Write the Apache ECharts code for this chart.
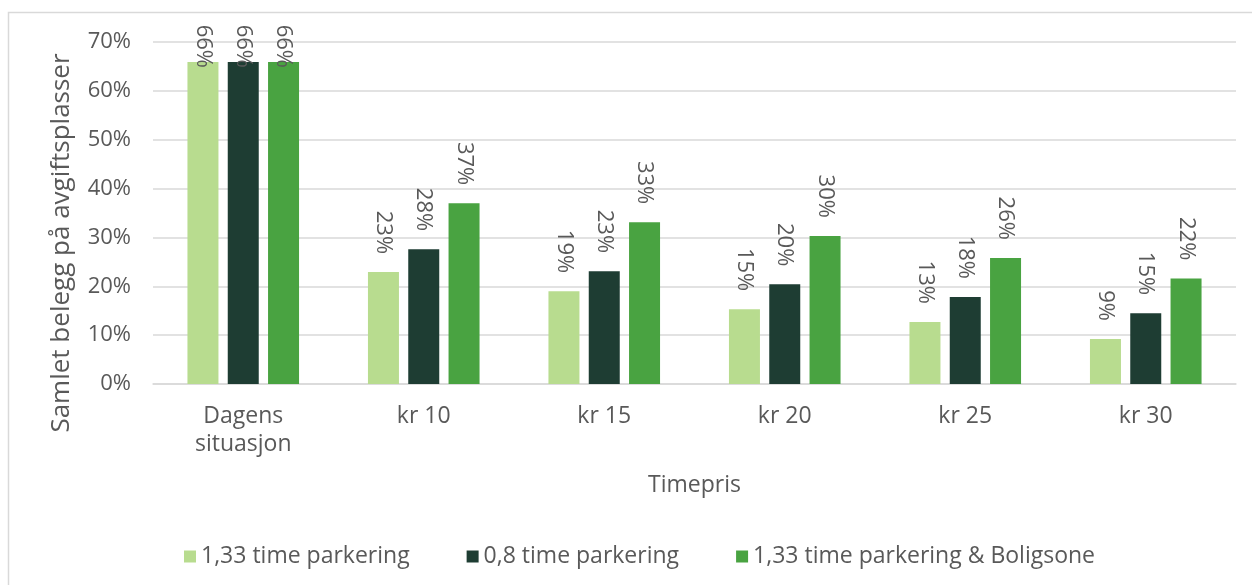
<!DOCTYPE html>
<html>
<head>
<meta charset="utf-8">
<script src="https://cdn.jsdelivr.net/npm/echarts@6/dist/echarts.min.js"></script>
<style>
  html, body { margin: 0; padding: 0; background: #ffffff; }
  #chart { width: 1252px; height: 585px; }
</style>
</head>
<body>
<div id="chart"></div>
<script>
// Hourly price scenarios
const categories = ['Dagens\nsituasjon', 'kr 10', 'kr 15', 'kr 20', 'kr 25', 'kr 30'];

// Total occupancy on paid parking spaces (%)
const seriesNames = ['1,33 time parkering', '0,8 time parkering', '1,33 time parkering & Boligsone'];
const parking133 = [65.9, 22.9, 19.0, 15.3, 12.7, 9.2];
const parking08 = [65.9, 27.6, 23.1, 20.4, 17.8, 14.5];
const parking133Bolig = [65.9, 37.0, 33.1, 30.3, 25.8, 21.6];

const yTicks = { min: 0, max: 70, interval: 10 };
const colors = ['#b8dc8f', '#1e3d33', '#49a341'];

const FONT = '"Open Sans"';
const TEXT = '#595959';
const FS = 23;

function makeData(values) {
  // labels that would run past the top of the plot are pulled down onto the bar
  return values.map(v => v > 60
    ? { value: v, label: { distance: -6 } }
    : v);
}

function makeSeries(name, values, color) {
  return {
    name: name,
    type: 'bar',
    data: makeData(values),
    barWidth: 31,
    barGap: '30%',
    itemStyle: { color: color },
    label: {
      show: true,
      position: 'top',
      rotate: -90,
      align: 'right',
      verticalAlign: 'middle',
      distance: 18,
      fontFamily: FONT,
      fontSize: 22,
      color: TEXT,
      formatter: p => Math.round(p.value) + '%'
    }
  };
}

const chart = echarts.init(document.getElementById('chart'));
chart.setOption({
  animation: false,
  textStyle: { fontFamily: FONT },
  graphic: [{
    type: 'rect',
    z: -10,
    shape: { x: 8.5, y: 12.5, width: 1300, height: 620 },
    style: { fill: '#ffffff', stroke: '#d9d9d9', lineWidth: 1.5 }
  }],
  grid: { left: 153, right: 16, top: 42, bottom: 201 },
  legend: {
    left: 179,
    top: 540,
    itemWidth: 12,
    itemHeight: 12,
    itemGap: 57,
    icon: 'rect',
    textStyle: { fontFamily: FONT, fontSize: FS, color: TEXT },
    data: seriesNames
  },
  xAxis: {
    type: 'category',
    data: categories,
    name: 'Timepris',
    nameLocation: 'middle',
    nameGap: 90,
    nameTextStyle: { fontFamily: FONT, fontSize: FS, color: TEXT },
    axisLine: { lineStyle: { color: '#d9d9d9', width: 1.5 } },
    axisTick: { show: false },
    axisLabel: { fontFamily: FONT, fontSize: FS, color: TEXT, margin: 18, lineHeight: 28 }
  },
  yAxis: {
    type: 'value',
    min: yTicks.min,
    max: yTicks.max,
    interval: yTicks.interval,
    name: 'Samlet belegg på avgiftsplasser',
    nameLocation: 'middle',
    nameGap: 78,
    nameTextStyle: { fontFamily: FONT, fontSize: 26, color: TEXT, padding: [0, 60, 0, 0] },
    axisLine: { show: false },
    axisTick: { show: false },
    axisLabel: { fontFamily: FONT, fontSize: 22, color: TEXT, margin: 22, formatter: v => v + '%' },
    splitLine: { lineStyle: { color: '#d9d9d9', width: 1.5 } }
  },
  series: [
    makeSeries(seriesNames[0], parking133, colors[0]),
    makeSeries(seriesNames[1], parking08, colors[1]),
    makeSeries(seriesNames[2], parking133Bolig, colors[2])
  ]
});
</script>
</body>
</html>
